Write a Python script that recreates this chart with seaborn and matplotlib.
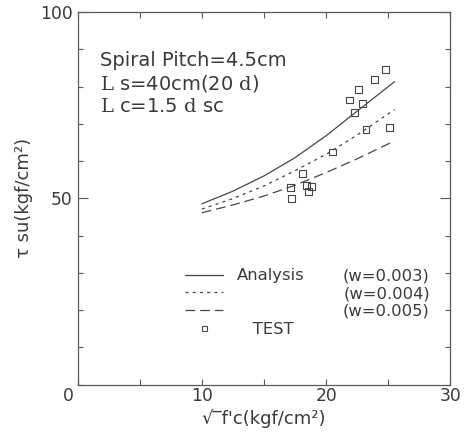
import matplotlib
matplotlib.use("Agg")
import matplotlib.pyplot as plt
import matplotlib.transforms as mtrans
from matplotlib.lines import Line2D
from matplotlib.ticker import MultipleLocator, FixedLocator
import numpy as np
import pandas as pd
import seaborn as sns

# ---------------- data ----------------
curve_x = [10.0, 12.5, 15.0, 17.5, 20.0, 22.5, 25.5]
tau_w003 = [48.5, 51.9, 56.0, 60.9, 66.8, 73.4, 81.3]
tau_w004 = [47.1, 49.9, 53.3, 57.4, 61.8, 67.0, 73.8]
tau_w005 = [46.1, 48.2, 50.6, 53.5, 56.9, 60.6, 65.4]

test_x = [24.8, 23.9, 22.6, 21.9, 22.9, 22.3, 23.2, 25.1, 20.5, 18.1, 17.1, 18.4, 18.8, 18.6, 17.2]
test_y = [84.5, 81.9, 79.1, 76.4, 75.4, 73.1, 68.4, 69.0, 62.4, 56.7, 52.8, 53.4, 53.1, 51.9, 50.0]

series_names = ["w=0.003", "w=0.004", "w=0.005"]
legend_right = ["(w=0.003)", "(w=0.004)", "(w=0.005)"]
x_ticks = [0, 10, 20, 30]
y_ticks = [50, 100]

annot_lines = ["Spiral Pitch=4.5cm",
               r"$\mathrm{L}$ s=40cm(20 $\mathrm{d}$)",
               r"$\mathrm{L}$ c=1.5 $\mathrm{d}$ sc"]

# ---------------- style ----------------
sns.set_theme(style="ticks")
ink = "#3a3a3a"
line_c = "#474747"
axis_c = "#5a5a5a"
plt.rcParams.update({
    "font.family": ["DejaVu Sans"],
    "mathtext.fontset": "custom",
    "mathtext.rm": "DejaVu Serif",
    "mathtext.it": "DejaVu Sans:italic",
    "mathtext.bf": "DejaVu Sans:bold",
    "lines.scale_dashes": False,
    "axes.edgecolor": axis_c,
    "axes.linewidth": 0.9,
    "text.color": ink,
    "axes.labelcolor": ink,
    "xtick.color": axis_c,
    "ytick.color": axis_c,
    "xtick.labelcolor": ink,
    "ytick.labelcolor": ink,
})

fig = plt.figure(figsize=(4.66, 4.32), dpi=100)
fig.patch.set_facecolor("white")
ax = fig.add_axes([77.5 / 466, 1 - 384.5 / 432, 373 / 466, 372.5 / 432])
ax.set_facecolor("white")

df = pd.DataFrame({
    "x": curve_x * 3,
    "tau": tau_w003 + tau_w004 + tau_w005,
    "w": [series_names[0]] * len(curve_x) + [series_names[1]] * len(curve_x)
         + [series_names[2]] * len(curve_x),
})
dash_map = {series_names[0]: "", series_names[1]: (2.2, 3.0), series_names[2]: (7.0, 3.6)}
sns.lineplot(data=df, x="x", y="tau", style="w", dashes=dash_map, color=line_c,
             linewidth=0.9, errorbar=None, legend=False, ax=ax)

sns.scatterplot(x=test_x, y=test_y, marker="s", s=24, ax=ax, legend=False)
coll = ax.collections[-1]
coll.set_facecolor("none")
coll.set_edgecolor(line_c)
coll.set_linewidth(0.8)

ax.set_xlim(0, 30)
ax.set_ylim(0, 100)
ax.xaxis.set_major_locator(FixedLocator(x_ticks))
ax.xaxis.set_minor_locator(FixedLocator([5, 15, 25]))
ax.yaxis.set_major_locator(FixedLocator(y_ticks))
ax.yaxis.set_minor_locator(MultipleLocator(10))
ax.tick_params(axis="both", which="both", direction="in", top=True, right=True,
               width=0.8, labelsize=12.3)
ax.tick_params(axis="x", which="both", length=4.5, pad=1.5)
ax.tick_params(axis="y", which="major", length=7, pad=3.5)
ax.tick_params(axis="y", which="minor", length=3.5)
for s in ax.spines.values():
    s.set_visible(True)
    s.set_color(axis_c)

ax.set_xlabel("√‾f'c(kgf/cm²)", fontsize=13)
ax.set_ylabel("τ su(kgf/cm²)", fontsize=13)
ax.xaxis.set_label_coords(0.5, -0.066)
ax.yaxis.set_label_coords(-0.118, 0.5)

# annotation block
for txt, ya in zip(annot_lines, [0.855, 0.793, 0.731]):
    ax.text(0.060, ya, txt, transform=ax.transAxes, fontsize=14, ha="left",
            va="baseline", color=ink)

# legend
h_solid = Line2D([], [], color=line_c, lw=0.9)
h_dot = Line2D([], [], color=line_c, lw=0.9, dashes=(2.2, 3.0))
h_dash = Line2D([], [], color=line_c, lw=0.9, dashes=(7.0, 3.6))
h_test = Line2D([], [], ls="none", marker="s", mfc="none", mec=line_c, ms=3.6, mew=0.8)
leg = ax.legend([h_solid, h_dot, h_dash, h_test], ["Analysis", " ", " ", "   TEST"],
                loc="upper left", bbox_to_anchor=(0.288, 0.312), frameon=False,
                fontsize=11.8, handlelength=2.3, handletextpad=0.9,
                labelspacing=0.17, borderpad=0, borderaxespad=0)
for t in leg.get_texts():
    t.set_color(ink)

fig.canvas.draw()
r = fig.canvas.get_renderer()
inv = ax.transAxes.inverted()
for t, lab in zip(leg.get_texts()[:3], legend_right):
    bb = t.get_window_extent(r)
    yc = 0.5 * (bb.y0 + bb.y1)
    ya = inv.transform((0, yc))[1]
    ax.text(0.945, ya, lab, transform=ax.transAxes, ha="right", va="center",
            fontsize=11.8, color=ink)

# shift the "0" tick label on the x axis slightly left like the reference
for lbl in ax.get_xticklabels():
    if lbl.get_text() == "0":
        lbl.set_transform(lbl.get_transform() +
                          mtrans.ScaledTranslation(-9 / 100, 0, fig.dpi_scale_trans))

fig.savefig("out.png", dpi=100, facecolor="white")
